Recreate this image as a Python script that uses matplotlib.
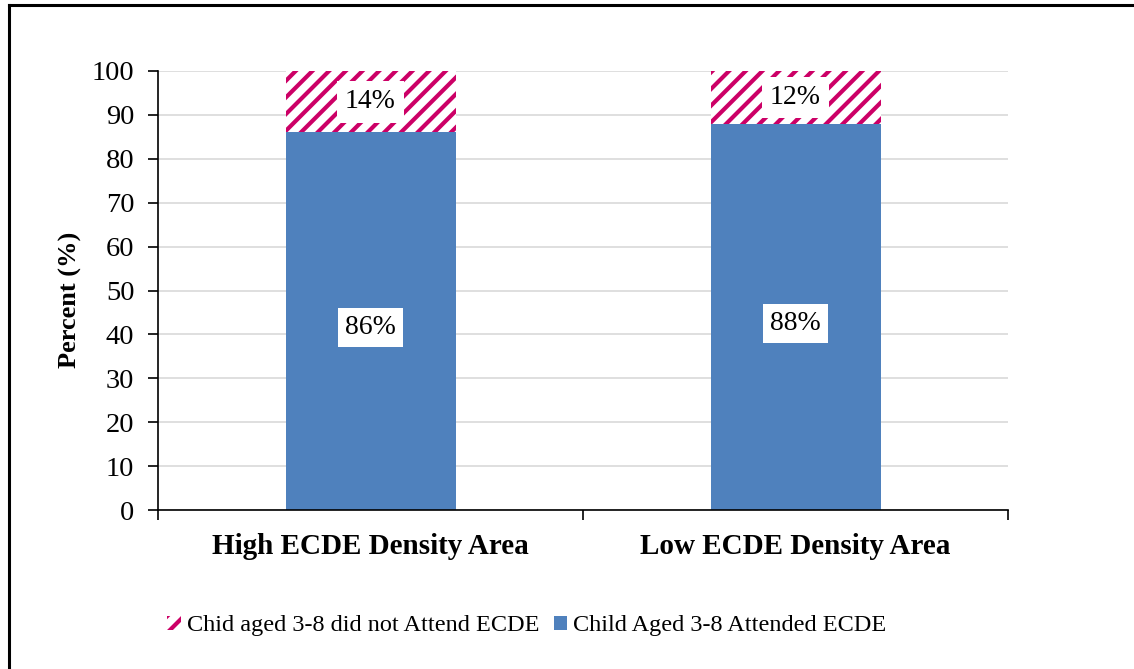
import matplotlib
matplotlib.use("Agg")
import matplotlib.pyplot as plt
from matplotlib.lines import Line2D
import numpy as np

categories = ["High ECDE Density Area", "Low ECDE Density Area"]
attended = [86, 88]
not_attended = [14, 12]
attended_labels = ["86%", "88%"]
not_attended_labels = ["14%", "12%"]
yticks = list(range(0, 101, 10))

plt.rcParams['font.family'] = ['Liberation Serif', 'DejaVu Serif']
plt.rcParams['hatch.linewidth'] = 3.0
plt.rcParams['hatch.color'] = '#CC0066'

W, H = 1134, 669
fig = plt.figure(figsize=(W/100, H/100), dpi=100)
ax = fig.add_axes([158/W, 1-510/H, 850/W, (510-71)/H])

x = np.arange(len(categories))
blue = '#4F81BD'
b1 = ax.bar(x, attended, width=0.4, color=blue, zorder=2,
            label='Child Aged 3-8 Attended ECDE')
b2 = ax.bar(x, not_attended, width=0.4, bottom=attended, facecolor='white',
            edgecolor='#CC0066', linewidth=0, hatch='//', zorder=2,
            label='Chid aged 3-8 did not Attend ECDE')

for i in range(len(categories)):
    ax.text(x[i], attended[i]/2 - 1.5, attended_labels[i], ha='center', va='center',
            fontsize=20, zorder=4,
            bbox=dict(boxstyle='square,pad=0.25', fc='white', ec='none'))
    ax.text(x[i], attended[i] + not_attended[i]/2, not_attended_labels[i],
            ha='center', va='center', fontsize=20, zorder=4,
            bbox=dict(boxstyle='square,pad=0.3', fc='white', ec='none'))

ax.set_xlim(-0.5, 1.5)
ax.set_ylim(0, 100)
ax.set_yticks(yticks)
ax.set_yticklabels([str(v) for v in yticks], fontsize=20.5)
ax.set_xticks([-0.5, 0.5, 1.5])
ax.set_xticklabels([])
ax.tick_params(axis='x', length=7, width=1.2, direction='out')
ax.tick_params(axis='y', length=7, width=1.2, direction='out', pad=10)
for i, c in enumerate(categories):
    ax.text(x[i], -5.3, c, ha='center', va='top', fontsize=21, fontweight='bold',
            transform=ax.transData)
ax.yaxis.grid(True, color='#D9D9D9', linewidth=1.2, zorder=0)
ax.set_axisbelow(True)
for s in ['top', 'right']:
    ax.spines[s].set_visible(False)
ax.spines['left'].set_linewidth(1.2)
ax.spines['bottom'].set_linewidth(1.2)
ax.set_ylabel('Percent (%)', fontsize=19, fontweight='bold')
ax.yaxis.set_label_coords(-0.09, 0.478)

leg = fig.legend(handles=[b2, b1], labels=['Chid aged 3-8 did not Attend ECDE',
                                          'Child Aged 3-8 Attended ECDE'],
                 loc='center', bbox_to_anchor=(527/W, 1-626/H), ncol=2, frameon=False,
                 fontsize=17.5, handlelength=0.55, handleheight=0.55, handletextpad=0.25,
                 columnspacing=0.6)

fig.add_artist(Line2D([9/W, 9/W], [0, 1-5/H], color='black', linewidth=2.2))
fig.add_artist(Line2D([9/W, 1], [1-5/H, 1-5/H], color='black', linewidth=2.2))

fig.savefig('out.png', dpi=100)
